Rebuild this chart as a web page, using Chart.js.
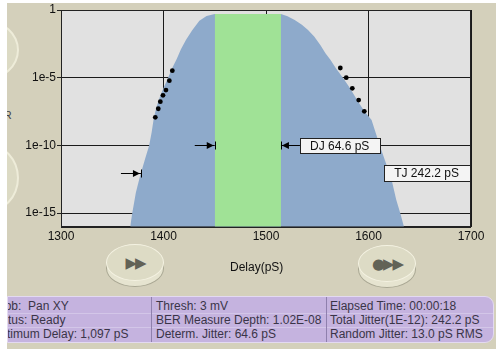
<!DOCTYPE html>
<html>
<head>
<meta charset="utf-8">
<script src="https://cdn.jsdelivr.net/npm/chart.js@4/dist/chart.umd.min.js"></script>
<style>
  html, body { margin: 0; padding: 0; }
  body {
    width: 496px; height: 349px; position: relative; overflow: hidden;
    background: #d4d0bb;
    font-family: "Liberation Sans", Arial, sans-serif;
  }
  #chart { position: absolute; left: 0; top: 0; z-index: 3; }
  .strip { position: absolute; background: #fff; z-index: 10; }
  .sidebtn {
    position: absolute; border-radius: 50%;
    background: #dcdac4; border: 2px solid #eeecd9; box-sizing: border-box;
  }
  .knob { position: absolute; width: 58px; height: 43px; }
  .knob .base {
    position: absolute; left: 0; top: 6px; width: 58px; height: 37px; border-radius: 50%;
    background: #e6e4d0; border: 1px solid #a9a793; box-sizing: border-box;
  }
  .knob .face {
    position: absolute; left: 0; top: 0; width: 58px; height: 37px; border-radius: 50%;
    background: #dddbc5; border: 1px solid #f4f2e2; box-sizing: border-box;
    display: flex; align-items: center; justify-content: center;
    color: #626256; font-family: "DejaVu Sans", sans-serif; font-size: 15px; letter-spacing: -2px;
  }
  #axisTitle { position: absolute; left: 230px; top: 260px; font-size: 12px; color: #111; z-index: 4; }
  #panel {
    position: absolute; left: 7px; top: 296px; width: 487px; height: 47px;
    background: #c5b3df; border: 1px solid #e3d9f1; border-radius: 0 9px 9px 0;
    box-sizing: border-box; overflow: hidden; color: #3a3548; font-size: 12px;
  }
  .col { position: absolute; top: 0; height: 100%; overflow: hidden; }
  .col div { position: absolute; left: 0; white-space: nowrap; line-height: 14px; }
  .sep { position: absolute; top: 0; width: 1px; height: 100%; background: #8f80ad; }
  .rowline { position: absolute; left: 0; width: 100%; height: 1px; background: #d3c6e8; }
</style>
</head>
<body>
<div class="strip" style="left:0;top:0;width:7px;height:349px"></div>
<div class="strip" style="left:0;top:0;width:496px;height:3px"></div>

<div class="sidebtn" style="left:-47px;top:20px;width:66px;height:60px"></div>
<div class="sidebtn" style="left:-47px;top:143px;width:66px;height:70px"></div>
<div style="position:absolute;left:-11px;top:109px;font-size:11px;color:#444">BER</div>

<div class="knob" style="left:106px;top:244px"><div class="base"></div><div class="face">▶▶</div></div>
<div class="knob" style="left:358px;top:245px"><div class="base"></div><div class="face">●▶▶</div></div>

<div id="axisTitle">Delay(pS)</div>

<canvas id="chart" width="496" height="349"></canvas>

<div id="panel">
  <div class="rowline" style="top:16px"></div>
  <div class="rowline" style="top:30px"></div>
  <div class="col" style="left:0;width:143px">
    <div style="top:2px;left:-18px">Knob:&nbsp; Pan XY</div>
    <div style="top:16px;left:-18px">Status: Ready</div>
    <div style="top:30px;left:-17px">Optimum Delay: 1,097 pS</div>
  </div>
  <div class="sep" style="left:143px"></div>
  <div class="col" style="left:144px;width:174px">
    <div style="top:2px;left:4px">Thresh: 3 mV</div>
    <div style="top:16px;left:4px">BER Measure Depth: 1.02E-08</div>
    <div style="top:30px;left:4px">Determ. Jitter: 64.6 pS</div>
  </div>
  <div class="sep" style="left:318px"></div>
  <div class="col" style="left:319px;width:166px">
    <div style="top:2px;left:3px">Elapsed Time: 00:00:18</div>
    <div style="top:16px;left:3px">Total Jitter(1E-12): 242.2 pS</div>
    <div style="top:30px;left:3px">Random Jitter: 13.0 pS RMS</div>
  </div>
</div>

<script>
// Bathtub curve: delay (pS) against bit error ratio
const curveDelay = [1367.5, 1369.5, 1373, 1377, 1382, 1386, 1388.5, 1390.5, 1393, 1397, 1401, 1404.5, 1409, 1413, 1417, 1422, 1428, 1435, 1442, 1450,
                    1514.6, 1521, 1528, 1535, 1541, 1547, 1553, 1558, 1563, 1568, 1575, 1582, 1589, 1596, 1603, 1611, 1617.7, 1620.5, 1622.6, 1627, 1631, 1634.6];
const curveBer   = [1e-16, 1e-15, 3.2e-14, 5e-13, 1e-11, 1e-10, 1e-9, 1e-8, 6.3e-8, 5e-7, 2.5e-6, 1e-5, 6.3e-5, 2.5e-4, 1.26e-3, 6.3e-3, 3.2e-2, 0.16, 0.36, 0.5,
                    0.5, 0.35, 0.18, 0.08, 0.033, 0.011, 2.6e-3, 6.3e-4, 2e-4, 5.2e-5, 1e-5, 1.7e-6, 2.2e-7, 3.3e-8, 7.6e-9, 1e-10, 3.5e-12, 1e-12, 2.8e-13, 1e-14, 1e-15, 1e-16];

// Measured BER points on each slope
const leftDotDelay  = [1408.6, 1405.7, 1402.4, 1399.5, 1396.9, 1394.9, 1392.0];
const leftDotBer    = [3.3e-5, 6.0e-6, 1.23e-6, 5.0e-7, 1.7e-7, 5.1e-8, 1.2e-8];
const rightDotDelay = [1572.5, 1578.3, 1584.2, 1590.4, 1595.9];
const rightDotBer   = [5.2e-5, 1.0e-5, 1.66e-6, 2.24e-7, 3.3e-8];

// Jitter results
const eyeTop  = 0.5;
const djStart = 1450;
const djWidth = 64.6;
const djBer   = 1e-10;
const tjStart = 1378;
const tjWidth = 242.2;
const tjBer   = 1e-12;

// Axes
const xMin = 1300, xMax = 1700, xStep = 100;
const yMin = 1e-16, yMax = 1;
const yTickValues = [1, 1e-5, 1e-10, 1e-15];
const yTickLabels = ['1', '1e-5', '1e-10', '1e-15'];

const toPoints = (xs, ys) => xs.map((x, i) => ({ x, y: ys[i] }));

const FONT = '"Liberation Sans", Arial, sans-serif';

const plotDecor = {
  id: 'plotDecor',
  beforeDraw(chart) {
    const { ctx, chartArea: a } = chart;
    ctx.save();
    ctx.fillStyle = '#e1e1e1';
    ctx.fillRect(a.left, a.top, a.width, a.height);
    ctx.restore();
  },
  afterDraw(chart) {
    const { ctx, chartArea: a } = chart;
    const xs = chart.scales.x, ys = chart.scales.y;
    ctx.save();
    // frame
    ctx.strokeStyle = '#222';
    ctx.lineWidth = 1;
    ctx.strokeRect(Math.round(a.left) + 0.5, Math.round(a.top) + 0.5, Math.round(a.width) - 1, Math.round(a.height));

    const arrow = (xFrom, xTip, y) => {
      const dir = xTip > xFrom ? 1 : -1;
      y = Math.round(y) + 0.5;
      ctx.strokeStyle = '#000';
      ctx.fillStyle = '#000';
      ctx.lineWidth = 1;
      ctx.beginPath();
      ctx.moveTo(xFrom, y); ctx.lineTo(xTip, y);
      ctx.moveTo(Math.round(xTip) + 0.5, y - 4); ctx.lineTo(Math.round(xTip) + 0.5, y + 4);
      ctx.stroke();
      ctx.beginPath();
      ctx.moveTo(xTip - dir, y);
      ctx.lineTo(xTip - dir * 8, y - 3.5);
      ctx.lineTo(xTip - dir * 8, y + 3.5);
      ctx.closePath();
      ctx.fill();
    };
    const box = (left, right, yc, h, text) => {
      const top = Math.round(yc - h / 2) + 0.5;
      ctx.fillStyle = '#f4f4f4';
      ctx.fillRect(Math.round(left) + 0.5, top, Math.round(right - left), h);
      ctx.strokeStyle = '#222';
      ctx.lineWidth = 1;
      ctx.strokeRect(Math.round(left) + 0.5, top, Math.round(right - left), h);
      ctx.fillStyle = '#111';
      ctx.font = '12px ' + FONT;
      ctx.textBaseline = 'middle';
      ctx.textAlign = 'left';
      ctx.fillText(text, left + 10, top + h / 2 + 0.5);
    };

    // total jitter, left edge
    const yTJ = ys.getPixelForValue(tjBer);
    const xTJ = xs.getPixelForValue(tjStart);
    arrow(xTJ - 20, xTJ, yTJ);
    box(xs.getPixelForValue(tjStart + tjWidth) - 5, a.right - 1, yTJ, 16, 'TJ ' + tjWidth.toFixed(1) + ' pS');

    // deterministic jitter, both edges
    const yDJ = ys.getPixelForValue(djBer);
    const xDJ0 = xs.getPixelForValue(djStart);
    const xDJ1 = xs.getPixelForValue(djStart + djWidth);
    arrow(xDJ0 - 20, xDJ0, yDJ);
    arrow(xDJ1 + 19, xDJ1, yDJ);
    box(xDJ1 + 19, xDJ1 + 99, yDJ, 15, 'DJ ' + djWidth.toFixed(1) + ' pS');
    ctx.restore();
  }
};

new Chart(document.getElementById('chart'), {
  type: 'scatter',
  data: {
    datasets: [
      {
        label: 'BER',
        data: toPoints(curveDelay, curveBer),
        showLine: true,
        fill: 'start',
        backgroundColor: '#8eaacb',
        borderWidth: 0,
        pointRadius: 0,
        tension: 0,
        order: 3
      },
      {
        label: 'DJ',
        data: [{ x: djStart, y: eyeTop }, { x: djStart + djWidth, y: eyeTop }],
        showLine: true,
        fill: 'start',
        backgroundColor: '#a0e296',
        borderWidth: 0,
        pointRadius: 0,
        order: 2
      },
      {
        label: 'Left',
        data: toPoints(leftDotDelay, leftDotBer),
        pointRadius: 2.4,
        pointBackgroundColor: '#000',
        pointBorderWidth: 0,
        order: 1
      },
      {
        label: 'Right',
        data: toPoints(rightDotDelay, rightDotBer),
        pointRadius: 2.4,
        pointBackgroundColor: '#000',
        pointBorderWidth: 0,
        order: 1
      }
    ]
  },
  options: {
    responsive: false,
    animation: false,
    layout: { padding: { left: 0, top: 10, right: 25, bottom: 102.3 } },
    plugins: { legend: { display: false }, tooltip: { enabled: false } },
    scales: {
      x: {
        type: 'linear',
        min: xMin, max: xMax,
        z: 1,
        afterFit(scale) { scale.height = 20; },
        ticks: {
          stepSize: xStep, color: '#111', padding: 3, font: { family: FONT, size: 12 },
          callback: value => String(value)
        },
        grid: { color: '#1a1a1a', lineWidth: 1, borderDash: [3, 3], drawTicks: false },
        border: { display: true, color: '#222', width: 1 }
      },
      y: {
        type: 'logarithmic',
        min: yMin, max: yMax,
        z: 1,
        afterFit(scale) { scale.width = 61; },
        afterBuildTicks(scale) { scale.ticks = yTickValues.map(v => ({ value: v })); },
        ticks: {
          color: '#111', padding: 1, font: { family: FONT, size: 12 },
          callback(value) {
            const i = yTickValues.findIndex(v => Math.abs(Math.log10(v) - Math.log10(value)) < 1e-6);
            return i >= 0 ? yTickLabels[i] : '';
          }
        },
        grid: { color: '#1a1a1a', lineWidth: 1, borderDash: [3, 3], tickLength: 4, tickBorderDash: [], tickColor: '#222' },
        border: { display: true, color: '#222', width: 1 }
      }
    }
  },
  plugins: [plotDecor]
});
</script>
</body>
</html>
